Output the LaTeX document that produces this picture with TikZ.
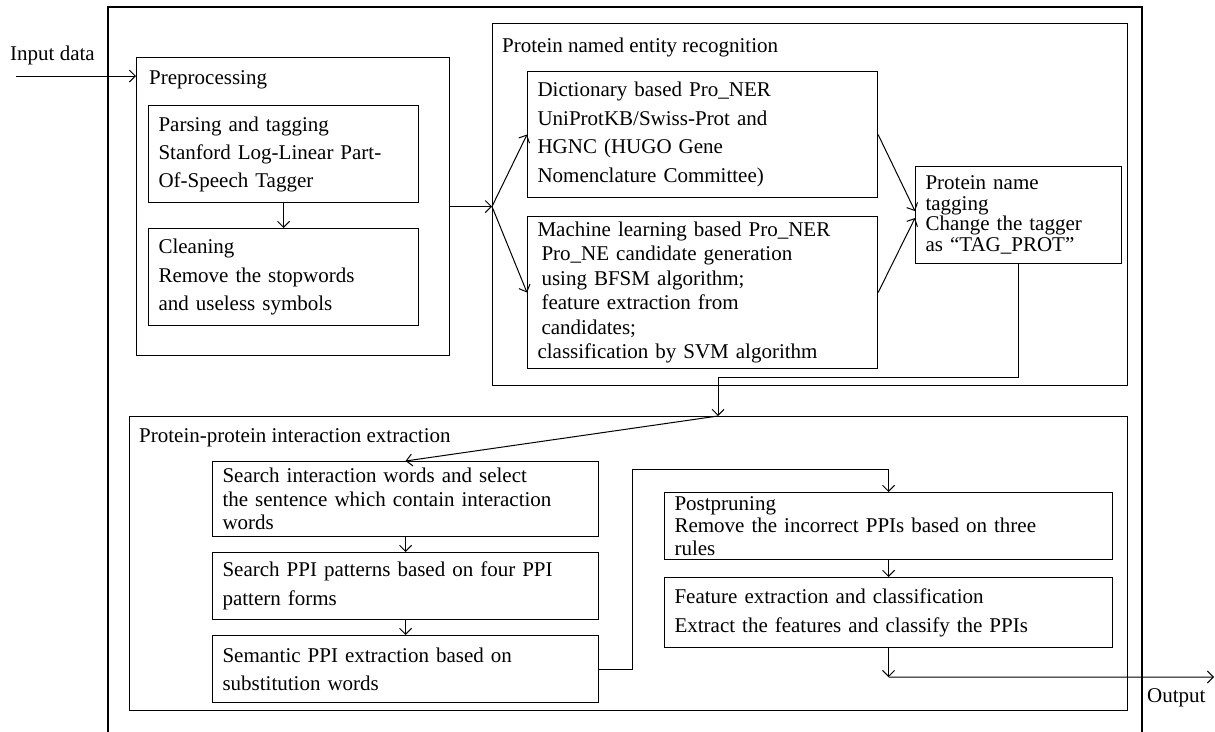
\documentclass[tikz,border=0pt]{standalone}
\usepackage{fontspec}
\setmainfont{Liberation Serif}
\usetikzlibrary{arrows.meta,calc}
\begin{document}
\begin{tikzpicture}[x=1pt,y=-1pt,
 every node/.style={font=\fontsize{21}{28}\selectfont},
 box/.style={draw, line width=1.1pt, rectangle, anchor=north west, inner ysep=0pt, inner xsep=10pt, align=left},
 grp/.style={draw, line width=1.1pt, rectangle, anchor=north west, inner sep=0pt},
 ttl/.style={anchor=west, inner sep=0pt},
 arr/.style={line width=1pt, -{Straight Barb[length=6pt,width=12pt]}},
 ln/.style={line width=1.1pt}]
\fill[white] (0,0) rectangle (1215,731);
\useasboundingbox (0,0) rectangle (1215,731);
% outer frame
\draw[ln] (108,733) -- (108,7) -- (1142,7) -- (1142,733);
% preprocessing
\node[grp, minimum width=313, minimum height=298] (pre) at (136,57) {};
\node[ttl] (pret) at (149,80) {Preprocessing};
\node[box, minimum width=270, minimum height=97, text width=250, font=\fontsize{21}{28}\selectfont] (parse) at (148,105) {Parsing and tagging\\Stanford Log-Linear Part-\\Of-Speech Tagger};
\node[box, minimum width=270, minimum height=97, text width=250, font=\fontsize{21}{28.5}\selectfont] (clean) at (148,228) {Cleaning\\Remove the stopwords\\and useless symbols};
% NER
\node[grp, minimum width=635, minimum height=362] (ner) at (492,23) {};
\node[ttl] (nert) at (502,47) {Protein named entity recognition};
\node[box, minimum width=350, minimum height=126, text width=330, font=\fontsize{21}{28.7}\selectfont] (dict) at (527,71) {Dictionary based Pro\_NER\\UniProtKB/Swiss-Prot and\\HGNC (HUGO Gene\\Nomenclature Committee)};
\node[box, minimum width=350, minimum height=152, text width=330, inner xsep=6pt, font=\fontsize{21}{24.4}\selectfont] (ml) at (527,216) {Machine learning based Pro\_NER\\\hspace{4pt}Pro\_NE candidate generation\\\hspace{4pt}using BFSM algorithm;\\\hspace{4pt}feature extraction from\\\hspace{4pt}candidates;\\classification by SVM algorithm};
\node[box, minimum width=206, minimum height=97, text width=186, font=\fontsize{21}{20.5}\selectfont] (tag) at (915,166) {Protein name\\tagging\\Change the tagger\\as “TAG\_PROT”};
% PPI
\node[grp, minimum width=998, minimum height=294] (ppi) at (129,416) {};
\node[ttl] (ppit) at (139,438) {Protein-protein interaction extraction};
\node[box, minimum width=386, minimum height=75, text width=366, font=\fontsize{21}{23.5}\selectfont] (s1) at (212,461) {Search interaction words and select\\the sentence which contain interaction\\words};
\node[box, minimum width=386, minimum height=67, text width=366, font=\fontsize{21}{29}\selectfont] (s2) at (212,552) {Search PPI patterns based on four PPI\\pattern forms};
\node[box, minimum width=386, minimum height=67, text width=366, font=\fontsize{21}{28}\selectfont] (s3) at (212,635) {Semantic PPI extraction based on\\substitution words};
\node[box, minimum width=448, minimum height=67, text width=428, font=\fontsize{21}{22.5}\selectfont] (post) at (664,492) {Postpruning\\Remove the incorrect PPIs based on three\\rules};
\node[box, minimum width=448, minimum height=70, text width=428, font=\fontsize{21}{29}\selectfont] (feat) at (664,577) {Feature extraction and classification\\Extract the features and classify the PPIs};
% labels
\node[ttl] (inp) at (10,55) {Input data};
\node[ttl] (outl) at (1147,698) {Output};
% coordinates
\coordinate (inS) at (16,76);
\coordinate (fan) at (pre.east -| ner.west);
\coordinate (pin) at (718,416);
\coordinate (oj) at ($(feat.south)+(0,29)$);
\coordinate (outE) at (1214,677);
% connectors
\draw[arr] (inS) -- (inS -| pre.west);
\draw[arr] (parse.south) -- (clean.north);
\draw[arr] (pre.east) -- (fan);
\draw[arr] (fan) -- (dict.west);
\draw[arr] (fan) -- (ml.west);
\draw[arr] (dict.east) -- ($(tag.west)+(0,-4)$);
\draw[arr] (ml.east) -- ($(tag.west)+(0,3)$);
\draw[arr] (tag.south) |- ($(pin)+(0,-39)$) -- (pin);
\draw[arr] (pin) -- (s1.north);
\draw[arr] (s1.south) -- (s2.north);
\draw[arr] (s2.south) -- (s3.north);
\draw[arr] (s3.east) -- ++(33,0) |- ($(post.north)+(0,-23)$) -- (post.north);
\draw[arr] (post.south) -- (feat.north);
\draw[arr] (feat.south) -- (oj);
\draw[arr] (oj) -- (outE);
\end{tikzpicture}
\end{document}
